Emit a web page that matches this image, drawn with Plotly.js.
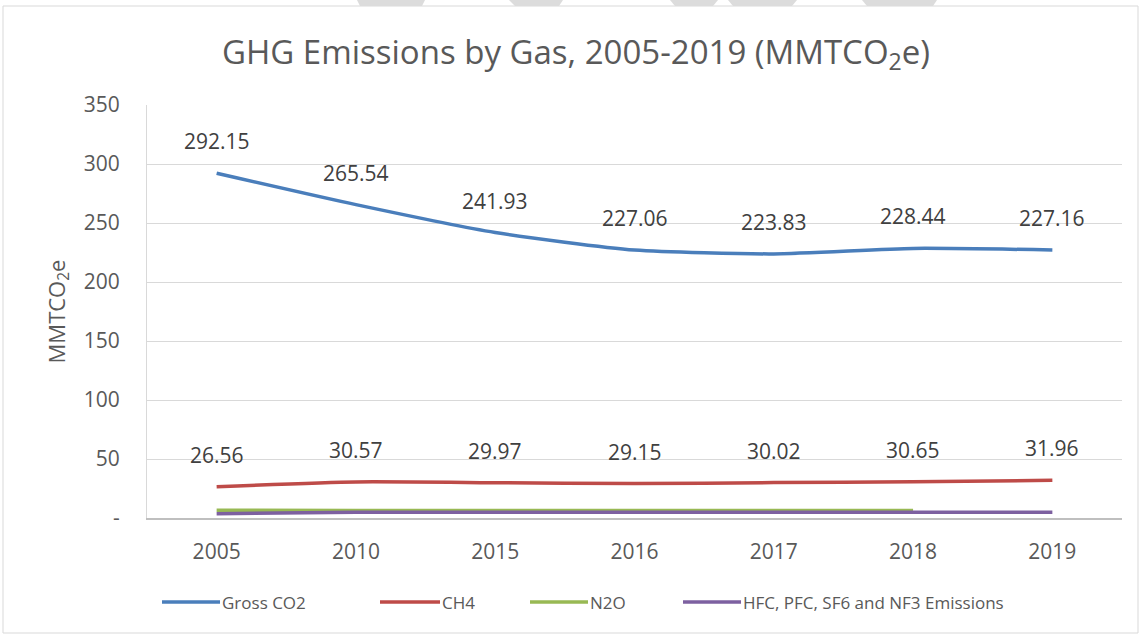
<!DOCTYPE html>
<html>
<head>
<meta charset="utf-8">
<script src="https://cdn.plot.ly/plotly-3.0.1.min.js"></script>
<style>html,body{margin:0;padding:0;background:#fff;}#chart{width:1141px;height:634px;}</style>
</head>
<body>
<div id="chart"></div>
<script>
// ---- data ----
var years = ["2005", "2010", "2015", "2016", "2017", "2018", "2019"];
var grossCO2 = [292.15, 265.54, 241.93, 227.06, 223.83, 228.44, 227.16];
var ch4 = [26.56, 30.57, 29.97, 29.15, 30.02, 30.65, 31.96];
var n2o = [6.6, 6.4, 6.3, 6.3, 6.3, 6.3, null];
var hfc = [3.6, 4.8, 4.9, 4.9, 4.9, 4.8, 4.9];
var seriesNames = ["Gross CO2", "CH4", "N2O", "HFC, PFC, SF6 and NF3 Emissions"];
var yTickVals = [0, 50, 100, 150, 200, 250, 300, 350];
var yTickText = ["-", "50", "100", "150", "200", "250", "300", "350"];

// ---- layout geometry ----
var W = 1141, H = 634;
var M = {l: 147, r: 19, t: 105, b: 116};
var PW = W - M.l - M.r, PH = H - M.t - M.b;
function px(x) { return (x - M.l) / PW; }
function py(y) { return (H - M.b - y) / PH; }

var FONT = "Open Sans, sans-serif";
var TXT = "#595959";
var colors = ["#4A7EBB", "#BE4B48", "#98B954", "#7D60A0"];
var allSeries = [grossCO2, ch4, n2o, hfc];

var traces = allSeries.map(function (s, i) {
  return {
    x: years, y: s, name: seriesNames[i], type: "scatter", mode: "lines",
    line: {color: colors[i], width: 3.5, shape: "spline", smoothing: 0.6},
    connectgaps: false, showlegend: false
  };
});

var annotations = [];
[grossCO2, ch4].forEach(function (s) {
  s.forEach(function (v, j) {
    annotations.push({
      x: j, y: v, xref: "x", yref: "y", text: v.toFixed(2),
      showarrow: false, yshift: 32, font: {family: FONT, size: 21, color: "#404040"}
    });
  });
});

// frame and top marks
var shapes = [{
  type: "rect", xref: "paper", yref: "paper", layer: "below",
  x0: px(3), x1: px(1138), y0: py(633), y1: py(6),
  line: {color: "#d9d9d9", width: 1}, fillcolor: "rgba(0,0,0,0)"
}];
var marks = [[357, 425, 360, 422], [509, 563, 515, 559], [670, 718, 675, 713], [728, 797, 733, 792], [862, 937, 867, 933]];
marks.forEach(function (m) {
  shapes.push({
    type: "path", xref: "paper", yref: "paper", layer: "above",
    path: "M" + px(m[0]) + "," + py(0) + " L" + px(m[1]) + "," + py(0) + " L" + px(m[3]) + "," + py(6) + " L" + px(m[2]) + "," + py(6) + " Z",
    fillcolor: "#dcdcdc", line: {width: 0}
  });
});

// legend (drawn as line swatches + texts)
var legendY = 602;
var legendSwatch = [[162, 220], [380, 440], [530, 588], [683, 741]];
seriesNames.forEach(function (name, i) {
  var sw = legendSwatch[i];
  shapes.push({
    type: "line", xref: "paper", yref: "paper",
    x0: px(sw[0]), x1: px(sw[1]), y0: py(legendY), y1: py(legendY),
    line: {color: colors[i], width: 3.5}
  });
  annotations.push({
    xref: "paper", yref: "paper", x: px(sw[1]), y: py(legendY),
    xanchor: "left", yanchor: "middle", text: name, showarrow: false,
    font: {family: FONT, size: 17, color: TXT}
  });
});

var layout = {
  width: W, height: H,
  margin: M,
  paper_bgcolor: "#ffffff", plot_bgcolor: "#ffffff",
  font: {family: FONT, color: TXT},
  title: {
    text: "GHG Emissions by Gas, 2005-2019 (MMTCO<sub>2</sub>e)",
    font: {family: FONT, size: 33, color: TXT},
    x: px(576), xref: "paper", xanchor: "center", y: 1 - 52 / H, yref: "container", yanchor: "middle"
  },
  xaxis: {
    type: "category", showgrid: false, zeroline: false,
    showline: true, linecolor: "#bfbfbf", linewidth: 1.5,
    ticks: "", tickfont: {family: FONT, size: 21, color: TXT},
    ticklabelstandoff: 14, range: [-0.5, 6.5], fixedrange: true
  },
  yaxis: {
    range: [0, 350], tickvals: yTickVals, ticktext: yTickText,
    showgrid: true, gridcolor: "#d9d9d9", gridwidth: 1,
    zeroline: false, showline: true, linecolor: "#d9d9d9", linewidth: 1,
    ticks: "", tickfont: {family: FONT, size: 21, color: TXT},
    ticklabelstandoff: 22,
    title: {text: "MMTCO<sub>2</sub>e", font: {family: FONT, size: 22, color: TXT}, standoff: 12}
  },
  showlegend: false,
  annotations: annotations,
  shapes: shapes
};

Plotly.newPlot("chart", traces, layout, {displayModeBar: false, staticPlot: true});
</script>
</body>
</html>
